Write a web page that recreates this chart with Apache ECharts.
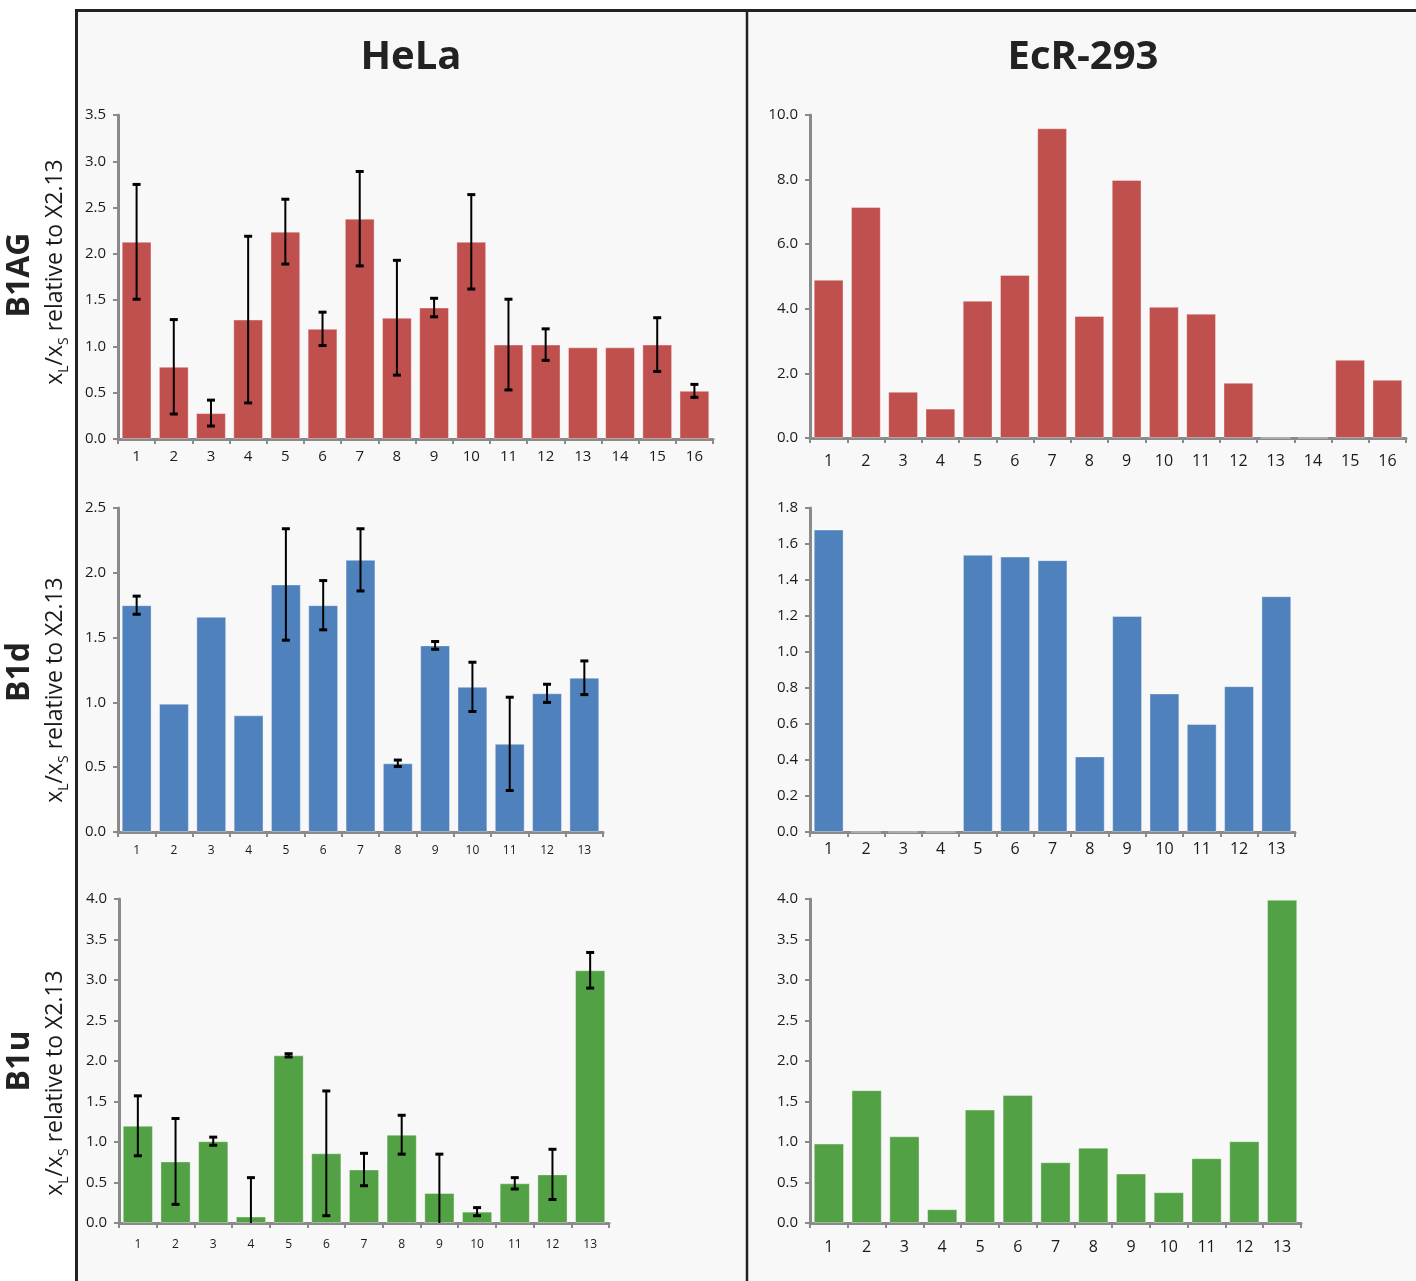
<!DOCTYPE html>
<html>
<head>
<meta charset="utf-8">
<script src="https://cdn.jsdelivr.net/npm/echarts@6/dist/echarts.min.js"></script>
<style>
html,body{margin:0;padding:0;background:#ffffff;}
#chart{width:1416px;height:1281px;}
</style>
</head>
<body>
<div id="chart"></div>
<script>
// ---------- DATA ----------
const colTitles = ['HeLa', 'EcR-293'];
const rowTitles = ['B1AG', 'B1d', 'B1u'];
const cats16 = ['1','2','3','4','5','6','7','8','9','10','11','12','13','14','15','16'];
const cats13 = ['1','2','3','4','5','6','7','8','9','10','11','12','13'];

const helaB1AG    = [2.13, 0.78, 0.28, 1.29, 2.24, 1.19, 2.38, 1.31, 1.42, 2.13, 1.02, 1.02, 0.99, 0.99, 1.02, 0.52];
const helaB1AGErr = [0.62, 0.51, 0.14, 0.90, 0.35, 0.18, 0.51, 0.62, 0.10, 0.51, 0.49, 0.17, 0, 0, 0.29, 0.07];
const ecrB1AG     = [4.90, 7.15, 1.43, 0.91, 4.25, 5.05, 9.59, 3.78, 7.99, 4.06, 3.85, 1.71, 0, 0, 2.42, 1.80];

const helaB1d     = [1.75, 0.99, 1.66, 0.90, 1.91, 1.75, 2.10, 0.53, 1.44, 1.12, 0.68, 1.07, 1.19];
const helaB1dErr  = [0.07, 0, 0, 0, 0.43, 0.19, 0.24, 0.025, 0.03, 0.19, 0.36, 0.07, 0.13];
const ecrB1d      = [1.68, 0, 0, 0, 1.54, 1.53, 1.51, 0.42, 1.20, 0.77, 0.60, 0.81, 1.31];

const helaB1u     = [1.20, 0.76, 1.01, 0.08, 2.07, 0.86, 0.66, 1.09, 0.37, 0.14, 0.49, 0.60, 3.12];
const helaB1uErr  = [0.37, 0.53, 0.05, 0.48, 0.02, 0.77, 0.20, 0.24, 0.48, 0.05, 0.07, 0.31, 0.22];
const ecrB1u      = [0.98, 1.64, 1.07, 0.17, 1.40, 1.58, 0.75, 0.93, 0.61, 0.38, 0.80, 1.01, 3.99];

const yMax = [3.5, 10, 2.5, 1.8, 4, 4];
const yStep = [0.5, 2, 0.5, 0.2, 0.5, 0.5];

// ---------- STYLE / LAYOUT ----------
const RED = '#c0504d', BLUE = '#4f81bd', GREEN = '#52a144';
const AXIS = '#8a8a8a';
const FONT = '"Open Sans", "Noto Sans", sans-serif';

const panels = [
  {grid:{left:118, top:115, width:595, height:324}, cats:cats16, vals:helaB1AG, err:helaB1AGErr, color:RED,   xfs:15, xm:10},
  {grid:{left:810, top:115, width:596, height:323}, cats:cats16, vals:ecrB1AG,  err:null,        color:RED,   xfs:16, xm:15},
  {grid:{left:118, top:508, width:485, height:324}, cats:cats13, vals:helaB1d,  err:helaB1dErr,  color:BLUE,  xfs:12, xm:13},
  {grid:{left:810, top:508, width:485, height:324}, cats:cats13, vals:ecrB1d,   err:null,        color:BLUE,  xfs:16, xm:9},
  {grid:{left:119, top:899, width:490, height:324}, cats:cats13, vals:helaB1u,  err:helaB1uErr,  color:GREEN, xfs:12, xm:16},
  {grid:{left:810, top:899, width:491, height:324}, cats:cats13, vals:ecrB1u,   err:null,        color:GREEN, xfs:16, xm:16}
];

const grids = [], xAxes = [], yAxes = [], series = [];
panels.forEach((p, i) => {
  grids.push(Object.assign({containLabel:false}, p.grid));
  xAxes.push({
    type:'category', gridIndex:i, data:p.cats, boundaryGap:true,
    axisLine:{show:true, lineStyle:{color:AXIS, width:3}},
    axisTick:{show:true, alignWithLabel:false, length:5, lineStyle:{color:AXIS, width:2}},
    axisLabel:{color:'#1a1a1a', fontSize:p.xfs, fontFamily:FONT, margin:p.xm, interval:0},
    splitLine:{show:false}
  });
  yAxes.push({
    type:'value', gridIndex:i, min:0, max:yMax[i], interval:yStep[i],
    axisLine:{show:true, lineStyle:{color:AXIS, width:3}},
    axisTick:{show:true, length:5, lineStyle:{color:AXIS, width:2}},
    axisLabel:{color:'#1a1a1a', fontSize:15, fontFamily:FONT, margin:12, formatter:v => v.toFixed(1)},
    splitLine:{show:false}
  });
  series.push({
    type:'bar', xAxisIndex:i, yAxisIndex:i, data:p.vals, barCategoryGap:'20%',
    itemStyle:{color:p.color, borderColor:'rgba(255,255,255,0.35)', borderWidth:1},
    silent:true, z:2
  });
  if (p.err) {
    const ed = [];
    p.vals.forEach((v, k) => { if (p.err[k] > 0) ed.push([k, v, p.err[k]]); });
    series.push({
      type:'custom', xAxisIndex:i, yAxisIndex:i, data:ed, clip:true, z:5, silent:true,
      renderItem:(params, api) => {
        const x = api.value(0), v = api.value(1), e = api.value(2);
        const hi = api.coord([x, v + e]);
        const lo = api.coord([x, v - e]);
        const cw = 4;
        const st = {stroke:'#000', lineWidth:2};
        return {type:'group', children:[
          {type:'line', shape:{x1:hi[0], y1:hi[1], x2:lo[0], y2:lo[1]}, style:st},
          {type:'line', shape:{x1:hi[0]-cw, y1:hi[1], x2:hi[0]+cw, y2:hi[1]}, style:{stroke:'#000', lineWidth:3}},
          {type:'line', shape:{x1:lo[0]-cw, y1:lo[1], x2:lo[0]+cw, y2:lo[1]}, style:{stroke:'#000', lineWidth:3}}
        ]};
      }
    });
  }
});

// ---------- GRAPHIC (frame, titles, row labels) ----------
const graphic = [
  {type:'rect', z:-10, shape:{x:76, y:10, width:1345, height:1280}, style:{fill:'#f8f8f8'}},
  {type:'line', z:10, shape:{x1:75, y1:10.5, x2:1416, y2:10.5}, style:{stroke:'#222', lineWidth:3}},
  {type:'line', z:10, shape:{x1:76.5, y1:9, x2:76.5, y2:1281}, style:{stroke:'#222', lineWidth:3}},
  {type:'line', z:10, shape:{x1:747, y1:10, x2:747, y2:1281}, style:{stroke:'#222', lineWidth:2.5}},
  {type:'text', z:10, x:411, y:58, style:{text:colTitles[0], font:'bold 40px ' + FONT, fill:'#222', align:'center', verticalAlign:'middle'}},
  {type:'text', z:10, x:1083, y:58, style:{text:colTitles[1], font:'bold 40px ' + FONT, fill:'#222', align:'center', verticalAlign:'middle'}}
];
const rowCenters = [[275, 272], [672, 690], [1061, 1083]];
rowTitles.forEach((t, r) => {
  graphic.push({type:'text', z:10, x:20, y:rowCenters[r][0], rotation:Math.PI/2,
    style:{text:t, font:'bold 32px ' + FONT, fill:'#222', align:'center', verticalAlign:'middle'}});
  graphic.push({type:'text', z:10, x:55, y:rowCenters[r][1], rotation:Math.PI/2,
    style:{text:'{m|x}{s|L}{m|/x}{s|S}{m| relative to X2.13}', align:'center', verticalAlign:'middle',
      rich:{
        m:{fontSize:23, fontFamily:FONT, fill:'#1a1a1a', lineHeight:32, verticalAlign:'middle'},
        s:{fontSize:14, fontFamily:FONT, fill:'#1a1a1a', lineHeight:32, verticalAlign:'bottom'}
      }}});
});

const chart = echarts.init(document.getElementById('chart'), null, {renderer:'canvas'});
chart.setOption({
  backgroundColor:'#ffffff',
  animation:false,
  grid:grids, xAxis:xAxes, yAxis:yAxes, series:series, graphic:graphic
});
</script>
</body>
</html>
